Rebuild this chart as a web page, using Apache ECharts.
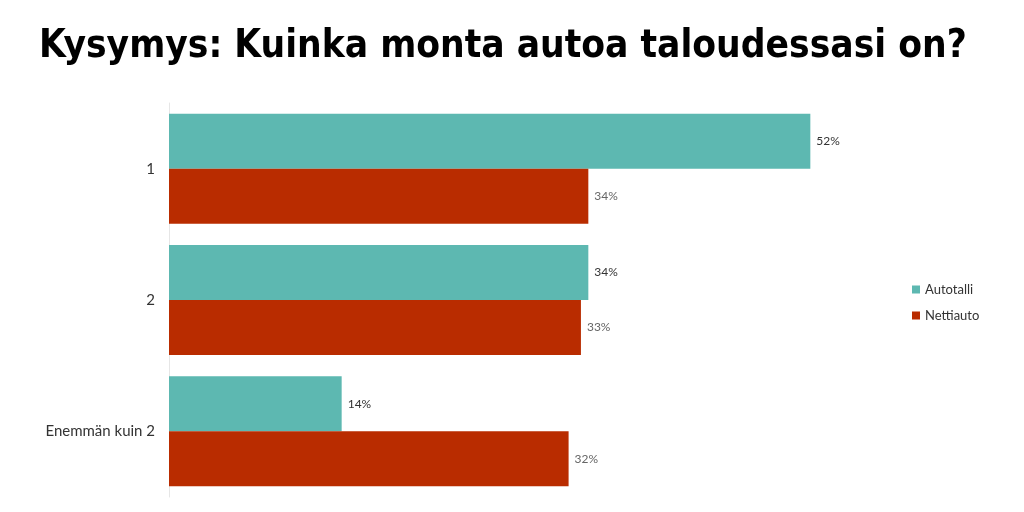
<!DOCTYPE html>
<html><head><meta charset="utf-8">
<script src="https://cdn.jsdelivr.net/npm/echarts@6/dist/echarts.min.js"></script>
<style>html,body{margin:0;padding:0;background:#fff}#c{width:1024px;height:512px}</style>
</head><body><div id="c"></div>
<script>
const categories = ['1', '2', 'Enemmän kuin 2'];
const seriesNames = ['Autotalli', 'Nettiauto'];
const autotalli = [52, 34, 14];
const nettiauto = [34, 33.4, 32.4];

const chart = echarts.init(document.getElementById('c'));
chart.setOption({
  backgroundColor: '#fff',
  animation: false,
  title: {
    text: 'Kysymys: Kuinka monta autoa taloudessasi on?',
    left: 34, top: 22,
    textStyle: {fontFamily: "'DejaVu Sans Condensed', 'Noto Sans', sans-serif", fontWeight: 'bold', fontSize: 38.5, color: '#000'}
  },
  legend: {
    orient: 'vertical', left: 907, top: 278, itemWidth: 8, itemHeight: 8, itemGap: 13,
    icon: 'rect',
    textStyle: {fontFamily: 'Lato', fontSize: 13, color: '#333'},
    data: seriesNames
  },
  grid: {left: 169, right: 115, top: 103, bottom: 15, containLabel: false},
  xAxis: {type: 'value', min: 0, max: 60, show: false},
  yAxis: {
    type: 'category', data: categories, inverse: true,
    axisLine: {show: true, lineStyle: {color: '#e6e6e6'}},
    axisTick: {show: false},
    axisLabel: {fontFamily: 'Lato', fontSize: 15, color: '#333', margin: 14}
  },
  series: [
    {name: seriesNames[0], type: 'bar', data: autotalli, barWidth: 55, barGap: '0%',
     itemStyle: {color: '#5db8b1'},
     label: {show: true, position: 'right', distance: 6, fontFamily: 'Lato', fontSize: 12, color: '#333',
       formatter: p => Math.round(p.value) + '%'}},
    {name: seriesNames[1], type: 'bar', data: nettiauto, barWidth: 55, barGap: '0%',
     itemStyle: {color: '#b92c00'},
     label: {show: true, position: 'right', distance: 6, fontFamily: 'Lato', fontSize: 12, color: '#666',
       formatter: p => Math.round(p.value) + '%'}}
  ]
});
</script></body></html>
